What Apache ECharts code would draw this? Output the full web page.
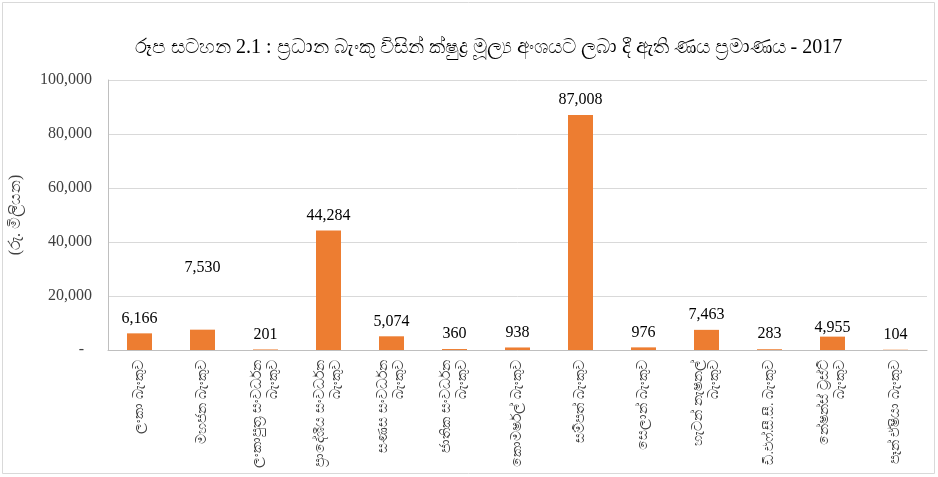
<!DOCTYPE html>
<html>
<head>
<meta charset="utf-8">
<script src="https://cdn.jsdelivr.net/npm/echarts@6/dist/echarts.min.js"></script>
<style>
html,body{margin:0;padding:0;background:#fff;}
#c{width:938px;height:477px;}
</style>
</head>
<body>
<div id="c"></div>
<script>
const titleText = 'රූප සටහන 2.1 : ප්‍රධාන බැංකු විසින් ක්ෂුද්‍ර මූල්‍ය අංශයට ලබා දී ඇති ණය ප්‍රමාණය - 2017';
const yAxisName = '(රු. මිලියන)';
const categories = [
  'ලංකා බැංකුව',
  'මහජන බැංකුව',
  'ලංකාපුත්‍ර සංවර්ධන\nබැංකුව',
  'ප්‍රාදේශීය සංවර්ධන\nබැංකුව',
  'සණස සංවර්ධන\nබැංකුව',
  'ජාතික සංවර්ධන\nබැංකුව',
  'කොමර්ෂල් බැංකුව',
  'සම්පත් බැංකුව',
  'සෙලාන් බැංකුව',
  'හැටන් නැෂනල්\nබැංකුව',
  'ඩී.එෆ්.සී.සී. බැංකුව',
  'නේෂන්ස් ට්‍රස්ට්\nබැංකුව',
  'පෑන් ඒෂියා බැංකුව'
];
const values = [6166, 7530, 201, 44284, 5074, 360, 938, 87008, 976, 7463, 283, 4955, 104];
const yTicks = [0, 20000, 40000, 60000, 80000, 100000];
// manual label nudges (as in the reference)
const labelOffsets = [0, -47, 0, 0, 0, 0, 0, 0, 0, 0, 0, 6, 0];

const serif = '"Liberation Serif","DejaVu Serif",serif';
const chart = echarts.init(document.getElementById('c'));
chart.setOption({
  backgroundColor: '#fff',
  animation: false,
  title: {
    text: titleText,
    left: 130,
    top: 33,
    textStyle: {fontFamily: serif, fontSize: 20, fontWeight: 'normal', color: '#000'}
  },
  graphic: [{
    type: 'rect', shape: {x: 2.5, y: 2.5, width: 932, height: 471},
    style: {fill: 'none', stroke: '#d9d9d9', lineWidth: 1}, silent: true
  }],
  grid: {left: 108, right: 11, top: 80, bottom: 127, containLabel: false, outerBoundsMode: 'none'},
  xAxis: {
    type: 'category',
    data: categories,
    axisLine: {lineStyle: {color: '#bfbfbf'}},
    axisTick: {show: false},
    axisLabel: {
      interval: 0, rotate: 90, margin: 10,
      fontFamily: serif, fontSize: 14, color: '#404040', lineHeight: 16
    }
  },
  yAxis: {
    type: 'value',
    min: yTicks[0], max: yTicks[yTicks.length - 1], interval: 20000,
    name: yAxisName,
    nameLocation: 'middle',
    nameGap: 84,
    nameRotate: 90,
    nameTextStyle: {fontFamily: serif, fontSize: 16, color: '#404040'},
    axisLine: {show: true, lineStyle: {color: '#bfbfbf'}},
    axisTick: {show: false},
    splitLine: {lineStyle: {color: '#d9d9d9'}},
    axisLabel: {
      margin: 16,
      fontFamily: serif, fontSize: 16, color: '#404040',
      formatter: v => v === 0 ? '-  ' : v.toLocaleString('en-US')
    }
  },
  series: [{
    type: 'bar',
    barWidth: 25,
    itemStyle: {color: '#ed7d31'},
    data: values.map((v, i) => ({value: v, label: {offset: [0, labelOffsets[i]]}})),
    label: {
      show: true, position: 'top', distance: 7,
      fontFamily: serif, fontSize: 16, color: '#000',
      formatter: p => p.value.toLocaleString('en-US')
    }
  }]
});
</script>
</body>
</html>
